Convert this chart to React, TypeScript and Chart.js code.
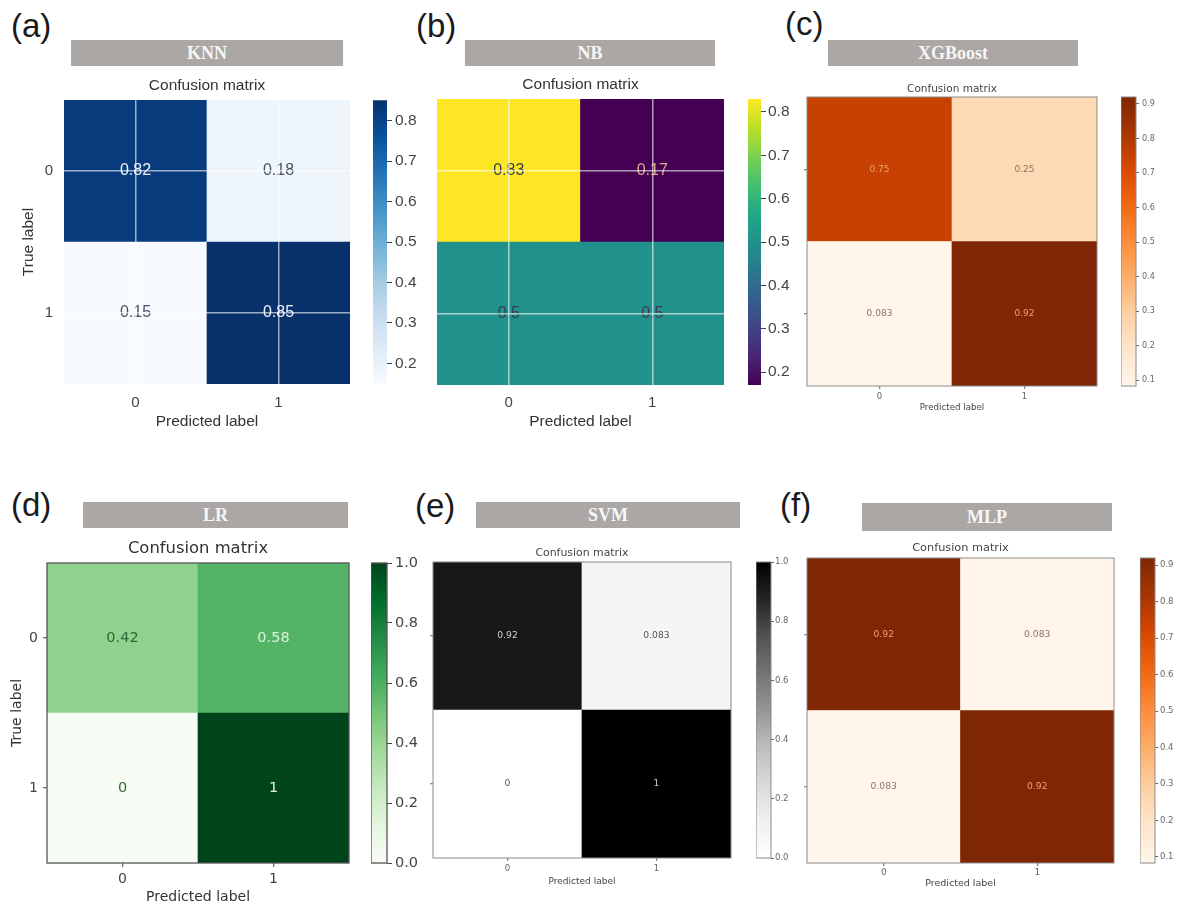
import React, { useEffect, useRef } from 'react';
import { Chart, registerables } from 'chart.js';

Chart.register(...registerables);

// ---------------- data ----------------
const CLASS_LABELS = ['0', '1'];
const MODEL_NAMES = ['KNN', 'NB', 'XGBoost', 'LR', 'SVM', 'MLP'];
const PANEL_LETTERS = ['(a)', '(b)', '(c)', '(d)', '(e)', '(f)'];

const KNN_MATRIX = [[0.82, 0.18], [0.15, 0.85]];
const NB_MATRIX = [[0.83, 0.17], [0.5, 0.5]];
const XGB_MATRIX = [[0.75, 0.25], [0.083, 0.92]];
const LR_MATRIX = [[0.42, 0.58], [0, 1]];
const SVM_MATRIX = [[0.92, 0.083], [0, 1]];
const MLP_MATRIX = [[0.92, 0.083], [0.083, 0.92]];

const KNN_CBAR_TICKS = [0.2, 0.3, 0.4, 0.5, 0.6, 0.7, 0.8];
const NB_CBAR_TICKS = [0.2, 0.3, 0.4, 0.5, 0.6, 0.7, 0.8];
const XGB_CBAR_TICKS = [0.1, 0.2, 0.3, 0.4, 0.5, 0.6, 0.7, 0.8, 0.9];
const LR_CBAR_TICKS = [0, 0.2, 0.4, 0.6, 0.8, 1.0];
const SVM_CBAR_TICKS = [0, 0.2, 0.4, 0.6, 0.8, 1.0];
const MLP_CBAR_TICKS = [0.1, 0.2, 0.3, 0.4, 0.5, 0.6, 0.7, 0.8, 0.9];

const MATRICES = [KNN_MATRIX, NB_MATRIX, XGB_MATRIX, LR_MATRIX, SVM_MATRIX, MLP_MATRIX];
const CBAR_TICKS = [KNN_CBAR_TICKS, NB_CBAR_TICKS, XGB_CBAR_TICKS, LR_CBAR_TICKS, SVM_CBAR_TICKS, MLP_CBAR_TICKS];

// ---------------- colormaps ----------------
const BLUES = ['#f7fbff', '#deebf7', '#c6dbef', '#9ecae1', '#6baed6', '#4292c6', '#2171b5', '#08519c', '#08306b'];
const ORANGES = ['#fff5eb', '#fee6ce', '#fdd0a2', '#fdae6b', '#fd8d3c', '#f16913', '#d94801', '#a63603', '#7f2704'];
const GREENS = ['#f7fcf5', '#e5f5e0', '#c7e9c0', '#a1d99b', '#74c476', '#41ab5d', '#238b45', '#006d2c', '#00441b'];
const GREYS = ['#ffffff', '#f0f0f0', '#d9d9d9', '#bdbdbd', '#969696', '#737373', '#525252', '#252525', '#000000'];
const VIRIDIS = ['#440154', '#482475', '#414487', '#355f8d', '#2a788e', '#21918c', '#22a884', '#44bf70', '#7ad151', '#bddf26', '#fde725'];

function hexToRgb(h: string) {
  const n = parseInt(h.slice(1), 16);
  return [(n >> 16) & 255, (n >> 8) & 255, n & 255];
}
function cmapColor(stops: string[], t: number) {
  const tt = Math.max(0, Math.min(1, t));
  const p = tt * (stops.length - 1);
  const i = Math.min(Math.floor(p), stops.length - 2);
  const f = p - i;
  const a = hexToRgb(stops[i]);
  const b = hexToRgb(stops[i + 1]);
  const c = a.map((v, k) => Math.round(v + (b[k] - v) * f));
  return `rgb(${c[0]},${c[1]},${c[2]})`;
}
function fmt(v: number) {
  return String(Number(v.toPrecision(2)));
}

const SANS = '"Liberation Sans", Arial, sans-serif';
const DEJAVU = '"DejaVu Sans", sans-serif';

// ---------------- panel styles / layout ----------------
const PANEL_STYLES: any[] = [
  {
    letterPos: [11, 9], banner: [71, 40, 272, 26], cmap: BLUES, font: SANS,
    mat: [64, 100, 350, 384], cbar: [373, 100, 387, 384],
    titleY: 86, titleFs: 15.5, tickFs: 15, labelFs: 15.5, cellFs: 16,
    xTickY: 403, xLabelY: 422, yTickRight: 53, yTitleX: 29, tickLen: 0,
    whiteGrid: true, gridColor: 'rgba(255,255,255,0.6)', frame: null, frameW: 1,
    cbTickLen: 5, cbLabelLeft: 395, cbFs: 15.5, cbFrame: null,
    textHi: '#4a5262', textLo: '#eef3fa', textColor: '#333', tickColor: '#444',
  },
  {
    letterPos: [416, 9], banner: [465, 40, 250, 26], cmap: VIRIDIS, font: SANS,
    mat: [437, 99, 724, 385], cbar: [748, 99, 761, 385],
    titleY: 85, titleFs: 15.5, tickFs: 15, labelFs: 15.5, cellFs: 16,
    xTickY: 403, xLabelY: 422, yTickRight: null, yTitleX: null, tickLen: 0,
    whiteGrid: true, gridColor: 'rgba(255,255,255,0.6)', frame: null, frameW: 1,
    cbTickLen: 5, cbLabelLeft: 768, cbFs: 15.5, cbFrame: null,
    textHi: '#dba98c', textLo: '#3a3d50', textColor: '#333', tickColor: '#444',
  },
  {
    letterPos: [785, 7], banner: [828, 40, 250, 26], cmap: ORANGES, font: DEJAVU,
    mat: [807, 97, 1097, 386], cbar: [1121, 97, 1136, 386],
    titleY: 89, titleFs: 10.5, tickFs: 8.5, labelFs: 8.7, cellFs: 9,
    xTickY: 397, xLabelY: 407.5, yTickRight: null, yTitleX: null, tickLen: 3,
    whiteGrid: false, gridColor: 'rgba(0,0,0,0)', frame: '#8a8a8a', frameW: 1,
    cbTickLen: 3, cbLabelLeft: 1142, cbFs: 8, cbFrame: '#8a8a8a',
    textHi: '#8d7466', textLo: '#f4a16e', textColor: '#444', tickColor: '#666',
  },
  {
    letterPos: [11, 488], banner: [83, 502, 265, 26], cmap: GREENS, font: DEJAVU,
    mat: [47, 563, 349, 863], cbar: [371, 563, 387, 863],
    titleY: 549, titleFs: 16.4, tickFs: 14, labelFs: 14, cellFs: 14.5,
    xTickY: 879, xLabelY: 897, yTickRight: 38, yTitleX: 17, tickLen: 4,
    whiteGrid: false, gridColor: 'rgba(0,0,0,0)', frame: '#555', frameW: 1.3,
    cbTickLen: 5, cbLabelLeft: 395, cbFs: 14.5, cbFrame: '#555',
    textHi: '#2d6a36', textLo: '#e0f0dc', textColor: '#333', tickColor: '#444',
  },
  {
    letterPos: [415, 489], banner: [476, 502, 264, 26], cmap: GREYS, font: DEJAVU,
    mat: [433, 562, 731, 858], cbar: [756, 562, 771, 858],
    titleY: 553, titleFs: 10.9, tickFs: 8.5, labelFs: 9, cellFs: 9.2,
    xTickY: 869, xLabelY: 882, yTickRight: null, yTitleX: null, tickLen: 3,
    whiteGrid: false, gridColor: 'rgba(0,0,0,0)', frame: '#8a8a8a', frameW: 1,
    cbTickLen: 3, cbLabelLeft: 775, cbFs: 8.5, cbFrame: '#8a8a8a',
    textHi: '#555555', textLo: '#d0d0d0', textColor: '#444', tickColor: '#666',
  },
  {
    letterPos: [780, 488], banner: [862, 503, 250, 28], cmap: ORANGES, font: DEJAVU,
    mat: [807, 558, 1114, 863], cbar: [1140, 558, 1155, 863],
    titleY: 548, titleFs: 11.3, tickFs: 9, labelFs: 9.5, cellFs: 9.2,
    xTickY: 873, xLabelY: 884, yTickRight: null, yTitleX: null, tickLen: 3,
    whiteGrid: false, gridColor: 'rgba(0,0,0,0)', frame: '#8a8a8a', frameW: 1,
    cbTickLen: 3, cbLabelLeft: 1160, cbFs: 8.5, cbFrame: '#8a8a8a',
    textHi: '#8d7466', textLo: '#f4a16e', textColor: '#444', tickColor: '#666',
  },
];

function matrixGeometry(st: any) {
  const [x0, y0, x1, y1] = st.mat;
  const tl = st.tickLen;
  let cl: number;
  if (st.yTitleX != null) cl = Math.floor(st.yTitleX - 0.6 * st.labelFs - 2);
  else cl = x0 - Math.max(tl, 1) - 1;
  const yW = x0 - cl;
  const yTitlePadTop = st.yTitleX != null ? st.yTitleX - cl - 0.6 * st.labelFs : 0;
  const yTickPad = st.yTickRight != null ? x0 - tl - st.yTickRight : 0;
  const ct = Math.floor(st.titleY - 0.6 * st.titleFs - 1);
  const titlePadTop = st.titleY - 0.6 * st.titleFs - ct;
  const titlePadBottom = y0 - st.titleY - 0.6 * st.titleFs;
  const cb = Math.ceil(st.xLabelY + 0.6 * st.labelFs + 2);
  const xH = cb - y1;
  const xTickPad = st.xTickY - y1 - tl - 0.6 * st.tickFs;
  const xTitlePadBottom = cb - st.xLabelY - 0.6 * st.labelFs;
  return {
    left: cl, top: ct, width: x1 + 3 - cl, height: cb - ct,
    yW, yTitlePadTop, yTickPad, titlePadTop, titlePadBottom, xH, xTickPad, xTitlePadBottom,
  };
}

function matrixConfig(values: number[][], st: any, g: any): any {
  const n = CLASS_LABELS.length;
  const flat = values.flat();
  const vmin = Math.min(...flat);
  const vmax = Math.max(...flat);
  const thresh = (vmin + vmax) / 2;
  const norm = (v: number) => (v - vmin) / (vmax - vmin);
  const rows = values.map((row, r) => ({ r, row })).reverse();
  const datasets = rows.map(({ r, row }) => ({
    label: 'True ' + CLASS_LABELS[r],
    data: row.map(() => 1),
    backgroundColor: row.map((v) => cmapColor(st.cmap, norm(v))),
    borderWidth: 0,
    barPercentage: 1,
    categoryPercentage: 1,
  }));
  const cellText = {
    id: 'cellText',
    afterDatasetsDraw(chart: any) {
      const ctx = chart.ctx;
      ctx.save();
      ctx.font = `${st.cellFs}px ${st.font}`;
      ctx.textAlign = 'center';
      ctx.textBaseline = 'middle';
      rows.forEach(({ row }, di) => {
        const meta = chart.getDatasetMeta(di);
        meta.data.forEach((el: any, i: number) => {
          const v = row[i];
          const p = el.getProps(['x', 'y', 'base'], true);
          ctx.fillStyle = v < thresh ? st.textHi : st.textLo;
          ctx.fillText(fmt(v), p.x, (p.y + p.base) / 2);
        });
      });
      ctx.restore();
    },
  };
  const frame = {
    id: 'frame',
    afterDraw(chart: any) {
      if (!st.frame) return;
      const { ctx, chartArea: a } = chart;
      ctx.save();
      ctx.strokeStyle = st.frame;
      ctx.lineWidth = st.frameW;
      ctx.strokeRect(a.left, a.top, a.right - a.left, a.bottom - a.top);
      ctx.restore();
    },
  };
  const grid = {
    display: true,
    offset: false,
    z: 1,
    drawOnChartArea: st.whiteGrid,
    color: st.gridColor,
    lineWidth: 1.5,
    drawTicks: st.tickLen > 0,
    tickLength: st.tickLen,
    tickColor: st.tickColor,
    tickWidth: 1,
  };
  return {
    type: 'bar',
    data: { labels: CLASS_LABELS, datasets },
    plugins: [cellText, frame],
    options: {
      animation: false,
      responsive: false,
      events: [],
      layout: { padding: { top: 0, bottom: 0, left: 0, right: 3 }, autoPadding: false },
      plugins: {
        legend: { display: false },
        tooltip: { enabled: false },
        title: {
          display: true,
          text: 'Confusion matrix',
          fullSize: false,
          color: st.textColor,
          font: { family: st.font, size: st.titleFs, weight: 'normal' },
          padding: { top: g.titlePadTop, bottom: g.titlePadBottom },
        },
      },
      scales: {
        x: {
          type: 'category',
          stacked: true,
          offset: true,
          grid,
          border: { display: false },
          ticks: {
            color: st.tickColor,
            font: { family: st.font, size: st.tickFs },
            padding: g.xTickPad,
            maxRotation: 0,
            autoSkip: false,
          },
          title: {
            display: true,
            text: 'Predicted label',
            color: st.textColor,
            font: { family: st.font, size: st.labelFs },
            padding: { top: 0, bottom: g.xTitlePadBottom },
          },
          afterFit: (s: any) => { s.height = g.xH; },
        },
        y: {
          type: 'linear',
          stacked: true,
          min: 0,
          max: n,
          afterBuildTicks: (ax: any) => {
            ax.ticks = CLASS_LABELS.map((_, i) => ({ value: n - i - 0.5 }));
          },
          grid,
          border: { display: false },
          ticks: {
            display: st.yTickRight != null,
            color: st.tickColor,
            font: { family: st.font, size: st.tickFs },
            padding: g.yTickPad,
            callback: (v: number) => CLASS_LABELS[Math.round(n - 0.5 - v)],
          },
          title: {
            display: st.yTitleX != null,
            text: 'True label',
            color: st.textColor,
            font: { family: st.font, size: st.labelFs },
            padding: { top: g.yTitlePadTop, bottom: 0 },
          },
          afterFit: (s: any) => { s.width = g.yW; },
        },
      },
    },
  };
}

const CB_PAD = 12;
const CB_AXIS_W = 40;

function colorbarConfig(values: number[][], ticks: number[], st: any): any {
  const flat = values.flat();
  const vmin = Math.min(...flat);
  const vmax = Math.max(...flat);
  const [x0, , x1] = st.cbar;
  const frame = {
    id: 'cbFrame',
    afterDraw(chart: any) {
      if (!st.cbFrame) return;
      const { ctx, chartArea: a } = chart;
      ctx.save();
      ctx.strokeStyle = st.cbFrame;
      ctx.lineWidth = st.frameW;
      ctx.strokeRect(a.left, a.top, a.right - a.left, a.bottom - a.top);
      ctx.restore();
    },
  };
  return {
    type: 'bar',
    data: {
      labels: ['colorbar'],
      datasets: [{
        data: [[vmin, vmax]],
        backgroundColor: (ctx: any) => {
          const chart = ctx.chart;
          const a = chart.chartArea;
          if (!a) return st.cmap[0];
          const gr = chart.ctx.createLinearGradient(0, a.bottom, 0, a.top);
          st.cmap.forEach((c: string, i: number) => gr.addColorStop(i / (st.cmap.length - 1), c));
          return gr;
        },
        borderWidth: 0,
        barPercentage: 1,
        categoryPercentage: 1,
      }],
    },
    plugins: [frame],
    options: {
      animation: false,
      responsive: false,
      events: [],
      layout: { padding: { top: CB_PAD, bottom: CB_PAD, left: 0, right: 0 }, autoPadding: false },
      plugins: { legend: { display: false }, tooltip: { enabled: false } },
      scales: {
        x: { display: false },
        y: {
          type: 'linear',
          position: 'right',
          min: vmin,
          max: vmax,
          afterBuildTicks: (ax: any) => { ax.ticks = ticks.map((v) => ({ value: v })); },
          grid: {
            drawOnChartArea: false,
            drawTicks: true,
            tickLength: st.cbTickLen,
            tickColor: st.tickColor,
            tickWidth: 1,
          },
          border: { display: false },
          ticks: {
            color: st.tickColor,
            font: { family: st.font, size: st.cbFs },
            padding: st.cbLabelLeft - x1 - st.cbTickLen,
            callback: (v: number) => v.toFixed(1),
          },
          afterFit: (s: any) => { s.width = CB_AXIS_W; },
        },
      },
    },
  };
}

function Panel({ idx }: { idx: number }) {
  const st = PANEL_STYLES[idx];
  const values = MATRICES[idx];
  const ticks = CBAR_TICKS[idx];
  const g = matrixGeometry(st);
  const mRef = useRef<HTMLCanvasElement>(null);
  const cRef = useRef<HTMLCanvasElement>(null);

  useEffect(() => {
    const m = new Chart(mRef.current as HTMLCanvasElement, matrixConfig(values, st, g));
    const c = new Chart(cRef.current as HTMLCanvasElement, colorbarConfig(values, ticks, st));
    return () => {
      m.destroy();
      c.destroy();
    };
  }, []);

  const [cx0, cy0, cx1, cy1] = st.cbar;
  const cbW = cx1 - cx0 + CB_AXIS_W;
  const cbH = cy1 - cy0 + 2 * CB_PAD;
  const [bx, by, bw, bh] = st.banner;

  return (
    <>
      <div
        style={{
          position: 'absolute', left: st.letterPos[0], top: st.letterPos[1],
          fontFamily: SANS, fontSize: 33, lineHeight: 1, color: '#1a1a1a',
        }}
      >
        {PANEL_LETTERS[idx]}
      </div>
      <div
        style={{
          position: 'absolute', left: bx, top: by, width: bw, height: bh,
          background: '#aaa7a5', color: '#f6f6f6', display: 'flex',
          alignItems: 'center', justifyContent: 'center',
          fontFamily: '"Liberation Serif", "Times New Roman", serif',
          fontWeight: 'bold', fontSize: 18, lineHeight: 1,
        }}
      >
        {MODEL_NAMES[idx]}
      </div>
      <canvas
        ref={mRef}
        width={g.width}
        height={g.height}
        style={{ position: 'absolute', left: g.left, top: g.top, width: g.width, height: g.height }}
      />
      <canvas
        ref={cRef}
        width={cbW}
        height={cbH}
        style={{ position: 'absolute', left: cx0, top: cy0 - CB_PAD, width: cbW, height: cbH }}
      />
    </>
  );
}

export default function App() {
  return (
    <div
      style={{
        position: 'absolute', left: 0, top: 0, width: 1180, height: 904,
        overflow: 'hidden', background: '#ffffff',
      }}
    >
      {PANEL_STYLES.map((_, i) => (
        <Panel key={i} idx={i} />
      ))}
    </div>
  );
}
